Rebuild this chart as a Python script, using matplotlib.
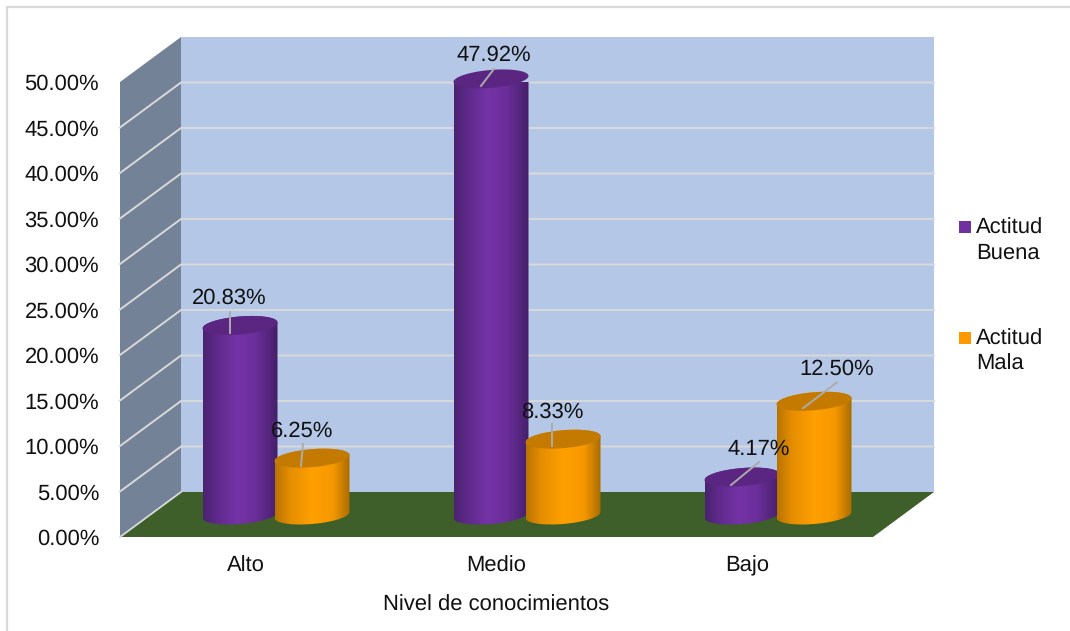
import numpy as np
import matplotlib
matplotlib.use("Agg")
import matplotlib.pyplot as plt
from matplotlib.colors import LinearSegmentedColormap
from matplotlib.lines import Line2D
from matplotlib.patches import Polygon, Rectangle

plt.rcParams["font.family"] = ["Liberation Sans", "DejaVu Sans"]
plt.rcParams["text.hinting"] = "none"
plt.rcParams["text.hinting_factor"] = 1

# Survey results
categories = ["Alto", "Medio", "Bajo"]
actitud_buena = [20.83, 47.92, 4.17]
actitud_mala = [6.25, 8.33, 12.50]
y_ticks = [0, 5, 10, 15, 20, 25, 30, 35, 40, 45, 50]
series_names = ["Actitud\nBuena", "Actitud\nMala"]
axis_title = "Nivel de conocimientos"

# Leader geometry relative to each bar's top centre, in pixels (y up):
# (label dx, label dy, line start dx, line start dy, line end dx, line end dy)
buena_leaders = [(-11, 27.5, -10, -8, -10, 13), (3, 23.5, -10, -7, 3, 10), (17, 27.5, -11, -8, 17, 15)]
mala_leaders = [(-10, 27.5, -11, -8, -9, 14), (-11, 27.5, -11, -7, -11, 15), (23, 32.5, -11, -7, 23, 19)]

W, H = 1070, 631
FONT = 16.1
TEXT_COLOR = "#111111"
fig = plt.figure(figsize=(W / 100, H / 100), dpi=100, facecolor="white")

# The axes rectangle is the front plane of the 3-D box
L, R, T, B = 120, 873, 82, 537
ax = fig.add_axes([L / W, 1 - B / H, (R - L) / W, (B - T) / H])
XMIN, XMAX, YMIN, YMAX = 0.5, 3.5, 0, 50
ax.set_xlim(XMIN, XMAX)
ax.set_ylim(YMIN, YMAX)
ax.set_aspect("auto")
PX = (R - L) / (XMAX - XMIN)
PY = (B - T) / (YMAX - YMIN)
DEPTH_X, DEPTH_Y = 61 / PX, 45 / PY


def px(dx, dy=0.0):
    return dx / PX, dy / PY


# Outer frame, running off the top-right of the canvas
fig.add_artist(Rectangle((7 / W, -0.1), 1.2, 1 - 7 / H + 0.1, transform=fig.transFigure,
                         fill=False, edgecolor="#D9D9D9", linewidth=1.6))

# Back wall, side wall and floor
ax.add_patch(Polygon([(XMIN + DEPTH_X, DEPTH_Y), (XMAX + DEPTH_X, DEPTH_Y),
                      (XMAX + DEPTH_X, YMAX + DEPTH_Y), (XMIN + DEPTH_X, YMAX + DEPTH_Y)],
                     closed=True, facecolor="#B4C7E7", edgecolor="none", clip_on=False, zorder=1))
ax.add_patch(Polygon([(XMIN, 0), (XMIN + DEPTH_X, DEPTH_Y),
                      (XMIN + DEPTH_X, YMAX + DEPTH_Y), (XMIN, YMAX)],
                     closed=True, facecolor="#748297", edgecolor="none", clip_on=False, zorder=1))
ax.add_patch(Polygon([(XMIN, 0), (XMAX, 0), (XMAX + DEPTH_X, DEPTH_Y), (XMIN + DEPTH_X, DEPTH_Y)],
                     closed=True, facecolor="#3F5F2A", edgecolor="none", clip_on=False, zorder=2))

# Gridlines wrap from the side wall onto the back wall; the zero line only edges the side wall
for v in y_ticks:
    if v == y_ticks[-1]:
        continue
    if v == y_ticks[0]:
        ax.plot([XMIN, XMIN + DEPTH_X], [v, v + DEPTH_Y], color="#D9D9D9", lw=1.3,
                clip_on=False, zorder=2.5)
        continue
    ax.plot([XMIN, XMIN + DEPTH_X, XMAX + DEPTH_X], [v, v + DEPTH_Y, v + DEPTH_Y],
            color="#D9D9D9", lw=1.4, clip_on=False, zorder=1.5, solid_joinstyle="miter")

# Cylinder shading across the width and the top-cap colour of each series
purple_cmap = LinearSegmentedColormap.from_list(
    "purple", [(0, "#4A2370"), (0.18, "#5F2A8B"), (0.45, "#7433A6"), (0.7, "#6C2E9B"), (1, "#45206A")])
orange_cmap = LinearSegmentedColormap.from_list(
    "orange", [(0, "#B87400"), (0.2, "#E68E00"), (0.5, "#FFA000"), (0.78, "#F59800"), (1, "#A86C00")])
PURPLE_TOP, ORANGE_TOP = "#5B2682", "#C47A00"
PURPLE_KEY, ORANGE_KEY = "#7030A0", "#FF9900"

BAR_A, BAR_B, TILT = 37.5, 9.0, 3.0   # half width, cap half height, cap tilt (pixels)
BAR_SHIFT = 36 / PX                   # horizontal offset of each bar from the group centre
MID_X, MID_Y = px(30.5, 22)           # bars stand half way into the box


def cylinder(cx, value, cmap, cap, z):
    """Draw one cylinder whose top cap centre sits at the height of value."""
    t_low = np.linspace(np.pi, 2 * np.pi, 60)
    t_up = np.linspace(0, np.pi, 60)
    xc = cx + MID_X
    ex_low, ey_low = px(BAR_A * np.cos(t_low), BAR_B * np.sin(t_low) + TILT * np.cos(t_low))
    ex_up, ey_up = px(BAR_A * np.cos(t_up), BAR_B * np.sin(t_up) + TILT * np.cos(t_up))
    body = np.vstack([np.column_stack([xc + ex_low, MID_Y + ey_low]),
                      np.column_stack([xc + ex_up, MID_Y + value + ey_up])])
    clip = Polygon(body, closed=True, transform=ax.transData)
    half = BAR_A / PX
    grad = ax.imshow(np.linspace(0, 1, 128)[None, :], cmap=cmap, aspect="auto",
                     extent=(xc - half, xc + half, MID_Y - 3, MID_Y + value + 3),
                     zorder=z, interpolation="bilinear")
    grad.set_clip_path(clip)
    t = np.linspace(0, 2 * np.pi, 120)
    ex, ey = px(BAR_A * np.cos(t), BAR_B * np.sin(t) + TILT * np.cos(t))
    ax.add_patch(Polygon(np.column_stack([xc + ex, MID_Y + value + ey]), closed=True,
                         facecolor=cap, edgecolor="none", clip_on=False, zorder=z + 0.1))
    return xc, MID_Y + value


def leader(top, spec, text):
    xc, yc = top
    ldx, ldy, sx, sy, ex, ey = spec
    ax.plot([xc + px(sx)[0], xc + px(ex)[0]], [yc + px(0, sy)[1], yc + px(0, ey)[1]],
            color="#ABABAB", lw=1.4, clip_on=False, zorder=20)
    ax.text(xc + px(ldx)[0], yc + px(0, ldy)[1], text, ha="center", va="center",
            fontsize=FONT, color=TEXT_COLOR, clip_on=False, zorder=21)


x_pos = np.arange(1, len(categories) + 1)
for i, c in enumerate(x_pos):
    z = 5 + i
    top = cylinder(c - BAR_SHIFT, actitud_buena[i], purple_cmap, PURPLE_TOP, z)
    leader(top, buena_leaders[i], f"{actitud_buena[i]:.2f}%")
    top = cylinder(c + BAR_SHIFT, actitud_mala[i], orange_cmap, ORANGE_TOP, z + 0.5)
    leader(top, mala_leaders[i], f"{actitud_mala[i]:.2f}%")

ax.set_xlim(XMIN, XMAX)
ax.set_ylim(YMIN, YMAX)

# Axes furniture
for s in ax.spines.values():
    s.set_visible(False)
ax.patch.set_visible(False)
ax.set_xticks(x_pos, categories)
ax.set_yticks(y_ticks, [f"{v:.2f}%" for v in y_ticks])
ax.tick_params(axis="both", length=0, labelsize=FONT, colors=TEXT_COLOR)
ax.tick_params(axis="y", pad=15)
ax.tick_params(axis="x", pad=13.5)
ax.set_xlabel(axis_title, fontsize=FONT, color=TEXT_COLOR)
ax.xaxis.set_label_coords(0.5, -0.127)

# Legend: each key square lines up with the first line of its two-line entry
legend_rows = [(227, 240.5, PURPLE_KEY), (338, 351.5, ORANGE_KEY)]
for name, (key_y, text_y, color) in zip(series_names, legend_rows):
    fig.add_artist(Line2D([964.5 / W], [1 - key_y / H], transform=fig.transFigure,
                          linestyle="none", marker="s", markersize=8, color=color,
                          markeredgewidth=0))
    fig.text(976 / W, 1 - text_y / H, name, fontsize=FONT, color=TEXT_COLOR,
             ha="left", va="center", linespacing=1.25)

fig.savefig("out.png", dpi=100)
